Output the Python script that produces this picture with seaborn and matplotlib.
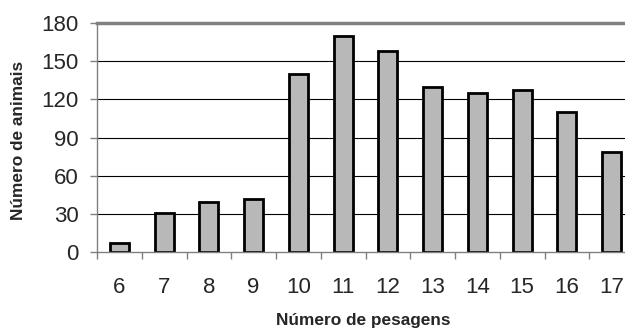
import matplotlib
matplotlib.use("Agg")
import matplotlib.pyplot as plt
import seaborn as sns
import pandas as pd
from matplotlib.ticker import FixedLocator, NullFormatter

pesagens = ['6', '7', '8', '9', '10', '11', '12', '13', '14', '15', '16', '17']
animais = [7, 31, 39, 42, 140, 170, 158, 130, 125, 127, 110, 79]
y_ticks = [0, 30, 60, 90, 120, 150, 180]

df = pd.DataFrame({'pesagens': pesagens, 'animais': animais})

sns.set_style('white')
plt.rcParams['font.family'] = ['Liberation Sans', 'DejaVu Sans']

fig = plt.figure(figsize=(6.25, 3.29), dpi=100)
ax = fig.add_axes([0.1552, 0.234, 0.8592, 0.696])

sns.barplot(data=df, x='pesagens', y='animais', order=pesagens, ax=ax,
            color='#b8b8b8', edgecolor='black', linewidth=2.0, width=0.43,
            saturation=1)

ax.set_xlim(-0.5, len(pesagens) - 0.5)
ax.set_ylim(0, 180)
ax.set_yticks(y_ticks)
ax.set_yticklabels([str(v) for v in y_ticks], fontsize=16)

# gridlines
for v in y_ticks[1:-1]:
    ax.axhline(v, color='black', linewidth=0.8, zorder=0)

# category ticks between bars, labels at bar centres
ax.xaxis.set_major_locator(FixedLocator([i - 0.5 for i in range(len(pesagens) + 1)]))
ax.xaxis.set_major_formatter(NullFormatter())
ax.xaxis.set_minor_locator(FixedLocator(list(range(len(pesagens)))))
ax.set_xticklabels(pesagens, minor=True, fontsize=16)
ax.tick_params(axis='x', which='major', direction='out', length=5, width=1, color='#808080', bottom=True)
ax.tick_params(axis='x', which='minor', length=0, pad=18)
ax.tick_params(axis='y', direction='out', length=5, width=1, color='#808080', left=True, pad=8)

for side in ['left', 'bottom']:
    ax.spines[side].set_color('#808080')
    ax.spines[side].set_linewidth(1)
ax.spines['top'].set_color('#808080')
ax.spines['top'].set_linewidth(2.5)
ax.spines['right'].set_visible(False)

ax.set_xlabel('')
ax.set_ylabel('')
fig.text(0.582, 0.027, 'Número de pesagens', fontsize=12.4, fontweight='bold',
         ha='center', va='center')
fig.text(0.029, 0.574, 'Número de animais', fontsize=12.4, fontweight='bold',
         ha='center', va='center', rotation=90)

fig.savefig('out.png', dpi=100)
